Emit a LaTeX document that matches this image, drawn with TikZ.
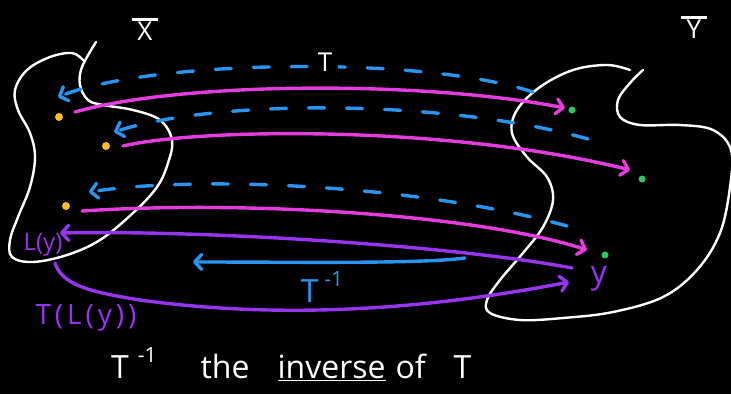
\documentclass[tikz,border=0pt]{standalone}
\usepackage{fontspec}
\setmainfont{Open Sans}
\usetikzlibrary{arrows.meta}
\definecolor{bblue}{RGB}{40,150,240}
\definecolor{mag}{RGB}{228,60,222}
\definecolor{purp}{RGB}{150,52,240}
\definecolor{ydot}{RGB}{250,190,40}
\definecolor{gdot}{RGB}{40,200,100}
\newcommand{\supm}[1]{\raisebox{0.5em}{\fontsize{21}{21}\selectfont #1}}
\newcommand{\barlet}[1]{\shortstack{\rule{26pt}{3pt}\\[-2pt]#1}}
\tikzset{
  blob/.style={draw=white,line width=2.4pt,line cap=round,line join=round},
  tip/.style={-{Straight Barb[length=7pt,width=15pt,round]}},
  fwd/.style={draw=mag,line width=3.4pt,line cap=round,tip},
  back/.style={draw=purp,line width=3.4pt,line cap=round,tip},
  inv/.style={draw=bblue,line width=3.4pt,line cap=round,tip},
  invdash/.style={inv,dash pattern=on 16pt off 22pt},
  xdot/.style={circle,fill=ydot,inner sep=0pt,minimum size=8pt},
  ydotst/.style={circle,fill=gdot,inner sep=0pt,minimum size=7pt},
  lbl/.style={inner sep=0pt,font=\fontsize{26}{26}\selectfont},
}
\begin{document}
\begin{tikzpicture}[x=1pt,y=-1pt]
\fill[black] (0,0) rectangle (731,394);
\useasboundingbox (0,0) rectangle (731,394);

% set X
\draw[blob] plot[smooth,tension=0.6] coordinates {(83,60) (72,53) (50,57) (27,70) (15,90) (18,110) (30,133) (35,157) (30,187) (18,217) (10,240) (12,257) (33,262) (67,255) (100,240) (133,213) (157,187) (168,163) (172,140) (160,120) (133,110) (103,105) (88,100) (80,85) (82,67) (96,42)};
% set Y
\draw[blob] plot[smooth,tension=0.6] coordinates {(630,70) (607,65) (573,70) (540,87) (517,110) (512,133) (527,157) (547,177) (553,200) (543,227) (523,253) (500,280) (487,300) (490,313) (520,320) (563,318) (613,312) (663,297) (697,270) (720,233) (730,187) (731,150) (713,130) (680,125) (640,125) (620,117) (618,100) (630,83) (643,70)};

\node[white,lbl] (setX) at (145,29) {\barlet{X}};
\node[white,lbl] (setY) at (694,27) {\barlet{Y}};

% points
\node[xdot] (x1) at (59,117) {};
\node[xdot] (x2) at (106,146) {};
\node[xdot] (x3) at (66,206) {};
\node[ydotst] (y1) at (572,110) {};
\node[ydotst] (y2) at (642,179) {};
\node[ydotst] (y3) at (605,255) {};

% arrow ends
\coordinate (m1s) at (75,112);  \coordinate (m1e) at (565,108);
\coordinate (m2s) at (123,146); \coordinate (m2e) at (630,170);
\coordinate (m3s) at (82,211);  \coordinate (m3e) at (587,250);
\coordinate (d1s) at (533,92);  \coordinate (d1e) at (58,97);
\coordinate (d2s) at (588,139); \coordinate (d2e) at (114,132);
\coordinate (d3s) at (567,226); \coordinate (d3e) at (89,192);
\coordinate (p1s) at (572,268); \coordinate (p1e) at (60,233);
\coordinate (p2s) at (55,263);  \coordinate (p2m) at (140,300); \coordinate (p2e) at (569,282);
\coordinate (bs) at (465,258);  \coordinate (be) at (193,262);

% T^{-1} dashed (behind)
\draw[invdash] (d1s) .. controls (420,55) and (150,60) .. (d1e);
\draw[invdash] (d2s) .. controls (450,100) and (220,98) .. (d2e);
\draw[invdash] (d3s) .. controls (420,185) and (200,175) .. (d3e);
\node[white,lbl,fill=black,inner sep=6pt] (Tlab) at (325,62) {T};

% T arrows
\draw[fwd] (m1s) .. controls (180,82) and (420,80) .. (m1e);
\draw[fwd] (m2s) .. controls (200,128) and (450,125) .. (m2e);
\draw[fwd] (m3s) .. controls (250,200) and (480,215) .. (m3e);

% purple
\draw[back] (p1s) .. controls (450,245) and (200,230) .. (p1e);
\draw[back] (p2s) .. controls (62,285) and (90,292) .. (p2m) .. controls (300,322) and (450,305) .. (p2e);

% blue solid
\draw[inv] (bs) .. controls (420,264) and (300,262) .. (be);
\node[bblue,lbl,font=\fontsize{32}{32}\selectfont] (Tinv) at (322,287) {T\hspace{6pt}\supm{-1}};

% labels
\node[purp,lbl,font=\fontsize{24}{24}\selectfont] (Ly) at (43,245) {L(y)};
\node[purp,lbl,font=\fontsize{28}{28}\selectfont\addfontfeature{LetterSpace=14}] (TLy) at (86,318) {T(L(y))};
\node[purp,lbl,font=\fontsize{32}{32}\selectfont] (ylab) at (599,279) {y};

\node[white,lbl,font=\fontsize{32}{32}\selectfont,anchor=base west] (title) at (111,378) {T\hspace{9pt}\supm{-1}\hspace{44pt}the\hspace{28pt}\underline{inverse}\hspace{10pt}of\hspace{28pt}T};
\end{tikzpicture}
\end{document}
